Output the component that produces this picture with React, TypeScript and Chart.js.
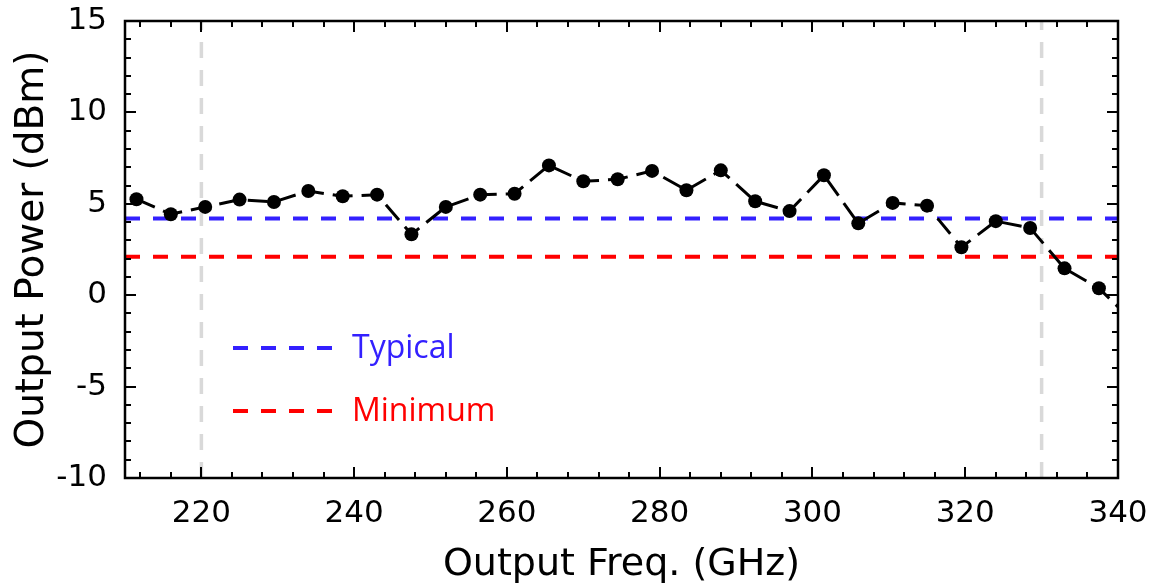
import React, { useEffect, useRef } from 'react';
import { Chart, registerables } from 'chart.js';

Chart.register(...registerables);

// ---- Data ----
const freqGHz = [
  211.5, 216, 220.5, 225, 229.5, 234, 238.5, 243, 247.5, 252,
  256.5, 261, 265.5, 270, 274.5, 279, 283.5, 288, 292.5, 297,
  301.5, 306, 310.5, 315, 319.5, 324, 328.5, 333, 337.5, 342,
];
const powerDbm = [
  5.25, 4.43, 4.83, 5.23, 5.1, 5.7, 5.41, 5.5, 3.33, 4.83,
  5.5, 5.55, 7.1, 6.23, 6.34, 6.8, 5.74, 6.83, 5.14, 4.6,
  6.56, 3.93, 5.05, 4.9, 2.62, 4.05, 3.68, 1.47, 0.38, -1.45,
];
const typicalDbm = 4.2;
const minimumDbm = 2.1;
const bandEdgesGHz = [220, 330];

const xRange = [210, 340];
const yRange = [-10, 15];
const xTickLabels = [220, 240, 260, 280, 300, 320, 340];
const yTickLabels = [-10, -5, 0, 5, 10, 15];

const legendNames = ['Typical', 'Minimum'];
const BLUE = '#3320ff';
const RED = '#ff0000';
const GRAY = '#d9d9d9';
const FONT = "'DejaVu Sans', sans-serif";

const framePlugin = {
  id: 'frameTicksLegend',
  afterDatasetsDraw(chart: any) {
    const { ctx, chartArea: a, scales } = chart;
    const x = scales.x;
    const y = scales.y;
    ctx.save();
    ctx.strokeStyle = '#000';
    ctx.lineWidth = 2.5;
    ctx.setLineDash([]);
    ctx.strokeRect(a.left, a.top, a.right - a.left, a.bottom - a.top);

    ctx.lineWidth = 2;
    ctx.beginPath();
    for (let v = 212; v <= xRange[1]; v += 4) {
      const px = Math.round(x.getPixelForValue(v));
      const len = v % 20 === 0 ? 11 : 6;
      ctx.moveTo(px, a.bottom);
      ctx.lineTo(px, a.bottom - len);
      ctx.moveTo(px, a.top);
      ctx.lineTo(px, a.top + len);
    }
    for (let v = yRange[0] + 1; v < yRange[1]; v += 1) {
      const py = Math.round(y.getPixelForValue(v));
      const len = v % 5 === 0 ? 11 : 6;
      ctx.moveTo(a.left, py);
      ctx.lineTo(a.left + len, py);
      ctx.moveTo(a.right, py);
      ctx.lineTo(a.right - len, py);
    }
    ctx.stroke();

    // in-plot legend
    const colors = [BLUE, RED];
    const rows = [a.top + 327, a.top + 390];
    ctx.lineWidth = 4;
    ctx.setLineDash([15, 13]);
    ctx.font = "32px 'Open Sans', sans-serif";
    ctx.textBaseline = 'alphabetic';
    ctx.textAlign = 'left';
    legendNames.forEach((name, i) => {
      ctx.strokeStyle = colors[i];
      ctx.beginPath();
      ctx.moveTo(a.left + 108, rows[i]);
      ctx.lineTo(a.left + 207, rows[i]);
      ctx.stroke();
      ctx.fillStyle = colors[i];
      ctx.fillText(name, a.left + 227, rows[i] + 10);
    });
    ctx.restore();
  },
};

const zeroPad = (s: any) => {
  s.paddingTop = 0;
  s.paddingBottom = 0;
  s.paddingLeft = 0;
  s.paddingRight = 0;
};

export default function App() {
  const ref = useRef<HTMLCanvasElement | null>(null);

  useEffect(() => {
    if (!ref.current) return;
    const hline = (v: number) => [
      { x: xRange[0], y: v },
      { x: xRange[1], y: v },
    ];
    const vline = (v: number) => [
      { x: v, y: yRange[0] },
      { x: v, y: yRange[1] },
    ];
    const chart = new Chart(ref.current, {
      type: 'line',
      data: {
        datasets: [
          {
            label: 'Output Power',
            data: freqGHz.map((f, i) => ({ x: f, y: powerDbm[i] })),
            borderColor: '#000',
            backgroundColor: '#000',
            borderWidth: 3,
            borderDash: [20, 9],
            pointRadius: 7,
            pointBorderWidth: 0,
            pointBackgroundColor: '#000',
            tension: 0,
          },
          {
            label: legendNames[0],
            data: hline(typicalDbm),
            borderColor: BLUE,
            borderWidth: 4,
            borderDash: [15, 13],
            pointRadius: 0,
          },
          {
            label: legendNames[1],
            data: hline(minimumDbm),
            borderColor: RED,
            borderWidth: 4,
            borderDash: [15, 13],
            pointRadius: 0,
          },
          ...bandEdgesGHz.map((b) => ({
            label: 'edge ' + b,
            data: vline(b),
            borderColor: GRAY,
            borderWidth: 3.5,
            borderDash: [16, 12],
            pointRadius: 0,
          })),
        ],
      },
      options: {
        animation: false,
        responsive: true,
        maintainAspectRatio: false,
        layout: { padding: { top: 21, right: 39, left: 0, bottom: 0 } },
        plugins: {
          legend: { display: false },
          tooltip: { enabled: false },
        },
        scales: {
          x: {
            type: 'linear',
            min: xRange[0],
            max: xRange[1],
            afterBuildTicks: (s: any) => {
              s.ticks = xTickLabels.map((v) => ({ value: v }));
            },
            afterFit: (s: any) => {
              s.height = 110;
              zeroPad(s);
            },
            grid: { display: false, drawTicks: false },
            border: { display: false },
            ticks: {
              color: '#000',
              font: { family: FONT, size: 31 },
              padding: 17,
              maxRotation: 0,
              autoSkip: false,
            },
            title: {
              display: true,
              text: 'Output Freq. (GHz)',
              color: '#000',
              font: { family: FONT, size: 38 },
              padding: { top: 0, bottom: 0 },
            },
          },
          y: {
            type: 'linear',
            min: yRange[0],
            max: yRange[1],
            afterBuildTicks: (s: any) => {
              s.ticks = yTickLabels.map((v) => ({ value: v }));
            },
            afterFit: (s: any) => {
              s.width = 125;
              zeroPad(s);
            },
            grid: { display: false, drawTicks: false },
            border: { display: false },
            ticks: {
              color: '#000',
              font: { family: FONT, size: 31 },
              padding: 18,
            },
            title: {
              display: true,
              text: 'Output Power (dBm)',
              color: '#000',
              font: { family: FONT, size: 39 },
              padding: { top: 9, bottom: 0 },
            },
          },
        },
      },
      plugins: [framePlugin],
    } as any);
    return () => chart.destroy();
  }, []);

  return (
    <div style={{ position: 'fixed', left: 0, top: 0, width: 1157, height: 588, background: '#fff' }}>
      <canvas ref={ref} />
    </div>
  );
}
